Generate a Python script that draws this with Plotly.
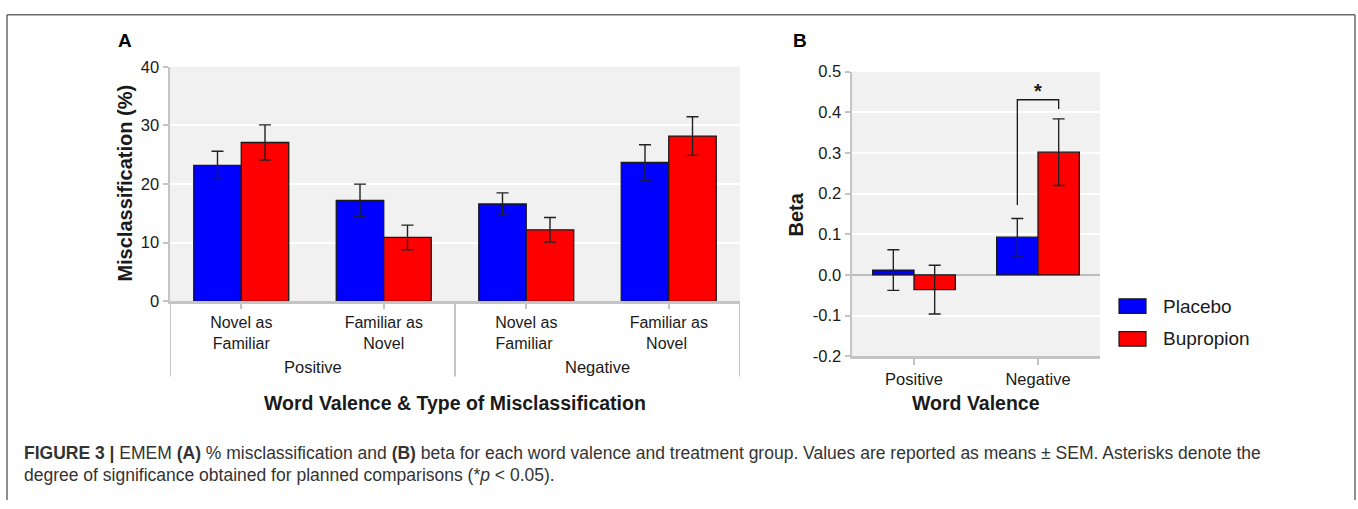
import plotly.graph_objects as go

W, H = 1358, 509

# ---------------- data ----------------
groups = ["Placebo", "Bupropion"]
colors = ["#0000ff", "#ff0000"]

a_categories = ["Novel as<br>Familiar", "Familiar as<br>Novel", "Novel as<br>Familiar ", "Familiar as<br>Novel "]
a_valence = ["Positive", "Negative"]
a_placebo = [23.2, 17.2, 16.6, 23.7]
a_placebo_err = [2.4, 2.8, 1.9, 3.0]
a_bupropion = [27.1, 10.9, 12.2, 28.2]
a_bupropion_err = [3.0, 2.1, 2.1, 3.3]
a_yticks = [0, 10, 20, 30, 40]

b_categories = ["Positive", "Negative"]
b_placebo = [0.012, 0.093]
b_placebo_err = [0.050, 0.046]
b_bupropion = [-0.036, 0.302]
b_bupropion_err = [0.060, 0.082]
b_yticks = [-0.2, -0.1, 0.0, 0.1, 0.2, 0.3, 0.4, 0.5]
b_yticktext = ["-0.2", "-0.1", "0.0", "0.1", "0.2", "0.3", "0.4", "0.5"]

caption_line1 = ("<b>FIGURE 3 |</b> EMEM <b>(A)</b> % misclassification and <b>(B)</b> beta for each word valence "
                 "and treatment group. Values are reported as means \u00b1 SEM. Asterisks denote the")
caption_line2 = "degree of significance obtained for planned comparisons (*<i>p</i> &lt; 0.05)."

FONT = "Liberation Sans, Arial, sans-serif"
AXIS_GREY = "#c4c4c4"
TXT = "#1a1a1a"


def px(x):
    return x / W


def py(y):
    return 1 - y / H


fig = go.Figure()

# Panel A bars
for name, vals, errs, col in [(groups[0], a_placebo, a_placebo_err, colors[0]),
                              (groups[1], a_bupropion, a_bupropion_err, colors[1])]:
    fig.add_trace(go.Bar(
        x=a_categories, y=vals, name=name, xaxis="x", yaxis="y",
        marker=dict(color=col, line=dict(color=TXT, width=1.3)),
        error_y=dict(type="data", array=errs, color="#222222", thickness=1.4, width=6),
        showlegend=False,
    ))

# Panel B bars
for name, vals, errs, col in [(groups[0], b_placebo, b_placebo_err, colors[0]),
                              (groups[1], b_bupropion, b_bupropion_err, colors[1])]:
    fig.add_trace(go.Bar(
        x=b_categories, y=vals, name=name, xaxis="x2", yaxis="y2",
        marker=dict(color=col, line=dict(color=TXT, width=1.3)),
        error_y=dict(type="data", array=errs, color="#222222", thickness=1.4, width=6),
        showlegend=False,
    ))

tickfont = dict(family=FONT, size=16.5, color=TXT)
cattickfont = dict(family=FONT, size=16, color=TXT)

fig.update_layout(
    width=W, height=H,
    margin=dict(l=0, r=0, t=0, b=0),
    paper_bgcolor="white",
    plot_bgcolor="#f1f1f1",
    barmode="group",
    bargap=1 / 3,
    bargroupgap=0,
    showlegend=False,
    font=dict(family=FONT, color=TXT),
    xaxis=dict(
        domain=[px(170), px(740)], anchor="y", type="category",
        range=[-0.5, 3.5],
        showline=True, linecolor=AXIS_GREY, linewidth=2.5,
        ticks="outside", ticklen=5, tickwidth=2, tickcolor=AXIS_GREY,
        tickfont=cattickfont, showgrid=False, zeroline=False, fixedrange=True,
    ),
    yaxis=dict(
        domain=[py(303), py(60)], anchor="x",
        range=[0, 40], tickvals=a_yticks,
        showline=True, linecolor=AXIS_GREY, linewidth=2.5,
        ticks="outside", ticklen=5, tickwidth=2, tickcolor=AXIS_GREY,
        tickfont=tickfont, showgrid=True, gridcolor="white", gridwidth=2,
        zeroline=False, fixedrange=True,
    ),
    xaxis2=dict(
        domain=[px(852), px(1100)], anchor="y2", type="category",
        range=[-0.5, 1.5],
        showline=True, linecolor=AXIS_GREY, linewidth=2.5,
        ticks="outside", ticklen=6, tickwidth=2, tickcolor=AXIS_GREY,
        tickfont=tickfont, showgrid=False, zeroline=False, fixedrange=True,
    ),
    yaxis2=dict(
        domain=[py(360), py(65)], anchor="x2",
        range=[-0.2, 0.5], tickvals=b_yticks, ticktext=b_yticktext,
        showline=True, linecolor=AXIS_GREY, linewidth=2.5,
        ticks="outside", ticklen=5, tickwidth=2, tickcolor=AXIS_GREY,
        tickfont=tickfont, showgrid=True, gridcolor="white", gridwidth=2,
        zeroline=True, zerolinecolor="#bdbdbd", zerolinewidth=2.5, fixedrange=True,
    ),
)

shapes = []
annotations = []

# Panel A group dividers and valence labels
for xv in [-0.5, 1.5, 3.5]:
    shapes.append(dict(type="line", xref="x", yref="paper", x0=xv, x1=xv,
                       y0=py(304), y1=py(381), line=dict(color=AXIS_GREY, width=2)))
for i, lab in enumerate(a_valence):
    annotations.append(dict(xref="x", yref="paper", x=2 * i + 0.5, y=py(371), text=lab,
                            showarrow=False, font=dict(family=FONT, size=16.5, color=TXT),
                            xanchor="center", yanchor="middle"))

# Significance bracket (panel B, Negative group)
x_left = 1 - 1 / 6
x_right = 1 + 1 / 6
shapes.append(dict(type="path", xref="x2", yref="y2",
                   path=f"M {x_left},0.172 L {x_left},0.431 L {x_right},0.431 L {x_right},0.408",
                   line=dict(color=TXT, width=1.3)))
annotations.append(dict(xref="x2", yref="y2", x=1, y=0.452, text="<b>*</b>", showarrow=False,
                        font=dict(family=FONT, size=20, color=TXT),
                        xanchor="center", yanchor="middle"))

# Manual legend
for i, (name, col) in enumerate(zip(groups, colors)):
    yc = 308 + 34 * i
    shapes.append(dict(type="rect", xref="paper", yref="paper",
                       x0=px(1119), x1=px(1146), y0=py(yc + 7.5), y1=py(yc - 7.5),
                       fillcolor=col, line=dict(color=TXT, width=1.2)))
    annotations.append(dict(xref="paper", yref="paper", x=px(1161), y=py(yc), text=name,
                            showarrow=False, font=dict(family=FONT, size=19, color=TXT),
                            xanchor="left", yanchor="middle"))

# Axis titles and panel letters
annotations += [
    dict(xref="paper", yref="paper", x=px(125), y=py(181), text="<b>Misclassification (%)</b>",
         textangle=-90, showarrow=False, font=dict(family=FONT, size=20, color=TXT),
         xanchor="center", yanchor="middle"),
    dict(xref="paper", yref="paper", x=px(455), y=py(408),
         text="<b>Word Valence &amp; Type of Misclassification</b>",
         showarrow=False, font=dict(family=FONT, size=19.5, color=TXT),
         xanchor="center", yanchor="middle"),
    dict(xref="paper", yref="paper", x=px(796), y=py(213), text="<b>Beta</b>",
         textangle=-90, showarrow=False, font=dict(family=FONT, size=20, color=TXT),
         xanchor="center", yanchor="middle"),
    dict(xref="paper", yref="paper", x=px(976), y=py(408), text="<b>Word Valence</b>",
         showarrow=False, font=dict(family=FONT, size=19.5, color=TXT),
         xanchor="center", yanchor="middle"),
    dict(xref="paper", yref="paper", x=px(125), y=py(33), text="<b>A</b>",
         showarrow=False, font=dict(family=FONT, size=19, color="#000000"),
         xanchor="center", yanchor="middle"),
    dict(xref="paper", yref="paper", x=px(800), y=py(33), text="<b>B</b>",
         showarrow=False, font=dict(family=FONT, size=19, color="#000000"),
         xanchor="center", yanchor="middle"),
    dict(xref="paper", yref="paper", x=px(22), y=py(460), text=caption_line1,
         showarrow=False, font=dict(family=FONT, size=17.5, color="#333333"),
         xanchor="left", yanchor="middle", align="left"),
    dict(xref="paper", yref="paper", x=px(22), y=py(483), text=caption_line2,
         showarrow=False, font=dict(family=FONT, size=17.5, color="#333333"),
         xanchor="left", yanchor="middle", align="left"),
]

# Frame around the figure
frame_col = "#6a6a6a"
shapes += [
    dict(type="line", xref="paper", yref="paper", x0=px(7), x1=px(7), y0=py(6), y1=py(509),
         line=dict(color=frame_col, width=1.5)),
    dict(type="line", xref="paper", yref="paper", x0=px(7), x1=px(1355), y0=py(6), y1=py(6),
         line=dict(color=frame_col, width=1.5)),
    dict(type="line", xref="paper", yref="paper", x0=px(1355), x1=px(1355), y0=py(6), y1=py(509),
         line=dict(color=frame_col, width=1.5)),
]

fig.update_layout(shapes=shapes, annotations=annotations)

fig.write_html("out.html",
               config={"displayModeBar": False, "staticPlot": True},
               post_script="document.body.style.margin='0';document.body.style.overflow='hidden';")
